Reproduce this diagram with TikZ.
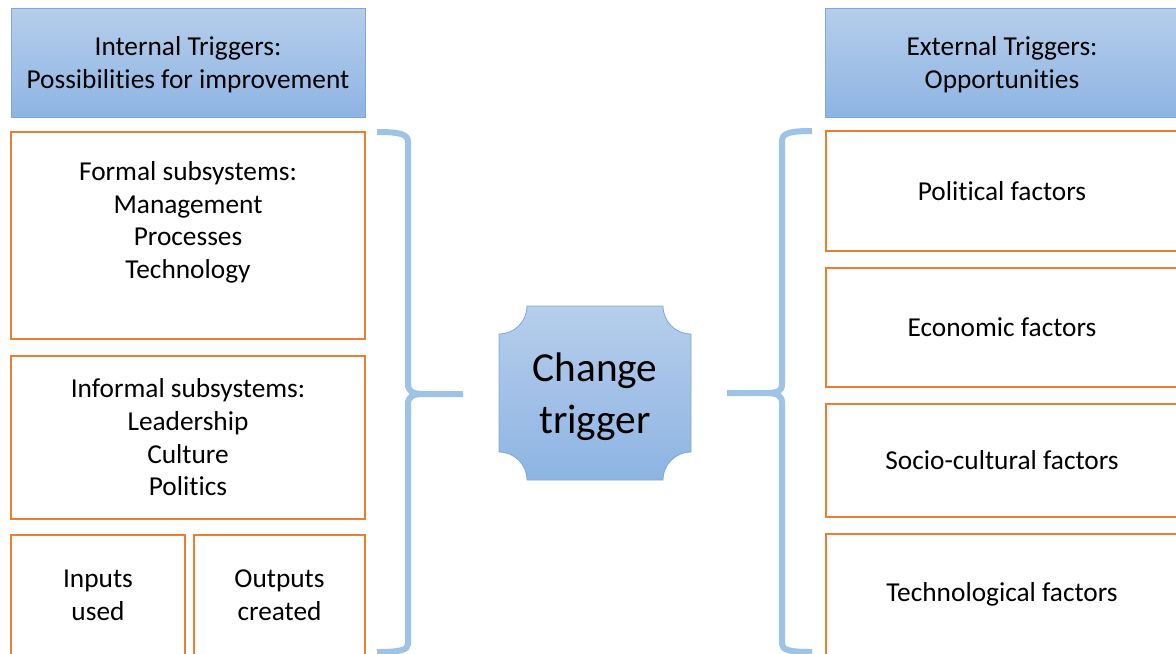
\documentclass[tikz,border=0pt]{standalone}
\usepackage{fontspec}
\setmainfont[Ligatures=NoCommon]{Carlito}
\usetikzlibrary{backgrounds}
\definecolor{hdtop}{RGB}{182,206,235}
\definecolor{hdbot}{RGB}{142,180,227}
\definecolor{hdline}{RGB}{125,168,221}
\definecolor{boxline}{RGB}{237,125,49}
\definecolor{bracecol}{RGB}{157,195,230}
\newcommand{\txtsize}{\fontsize{20.5}{24.5}\selectfont}
\newcommand{\headtxt}[1]{\raisebox{-2.3pt}[\height][\depth]{\begin{tabular}{@{}c@{}}#1\end{tabular}}}
\begin{document}
\begin{tikzpicture}[x=0.75pt, y=-0.75pt,
    header/.style={draw=hdline, line width=0.6pt, top color=hdtop, bottom color=hdbot,
        minimum width=265.5pt, minimum height=81.75pt, inner sep=0pt, font=\txtsize},
    factor/.style={draw=boxline, line width=0.9pt, fill=white, inner sep=0pt, align=center, font=\txtsize},
    brace/.style={draw=bracecol, line width=4.5pt}]
\clip (0,0) rectangle (1176,653);

% headers
\node[header] (inthead) at (188,62.5) {\headtxt{Internal Triggers:\\Possibilities for improvement}};
\node[header] (exthead) at (1002,62.5) {\headtxt{External Triggers:\\Opportunities}};

% internal side
\node[factor, minimum width=265.5pt, minimum height=155.25pt] (formal) at (188,235.5) {};
\node[font=\txtsize, align=center] (formaltxt) at (188,222.5) {Formal subsystems:\\Management\\Processes\\Technology};
\node[factor, minimum width=265.5pt, minimum height=122.25pt] (informal) at (188,437.5) {Informal subsystems:\\Leadership\\Culture\\Politics};
\node[factor, minimum width=130.5pt, minimum height=90pt] (inputs) at (98,595) {Inputs\\used};
\node[factor, minimum width=128.25pt, minimum height=90pt] (outputs) at (279.5,595) {Outputs\\created};

% external side
\node[factor, minimum width=264pt, minimum height=90pt] (political) at (1002,191) {Political factors};
\node[factor, minimum width=264pt, minimum height=89.25pt] (economic) at (1002,327.5) {Economic factors};
\node[factor, minimum width=264pt, minimum height=84.75pt] (social) at (1002,460.5) {Socio-cultural factors};
\node[factor, minimum width=264pt, minimum height=90.75pt] (techno) at (1002,594.5) {Technological factors};

% centre
\node[font=\fontsize{31}{39}\selectfont, align=center] (trig) at (595,397) {Change\\trigger};
\begin{scope}[on background layer]
\shade[top color=hdtop, bottom color=hdbot, draw=hdline, line width=0.6pt]
    (527,306) -- (663,306) .. controls (663,321.5) and (675.5,334) .. (691,334)
    -- (691,452) .. controls (675.5,452) and (663,464.5) .. (663,480)
    -- (527,480) .. controls (527,464.5) and (514.5,452) .. (499,452)
    -- (499,334) .. controls (514.5,334) and (527,321.5) .. (527,306) -- cycle;
\end{scope}

% braces
\draw[brace] (377,132) .. controls (400,132) and (408,134) .. (408,142) -- (408,384)
    .. controls (408,391) and (412,394) .. (424,394) -- (463,394);
\draw[brace] (424,394) .. controls (412,394) and (408,397) .. (408,404) -- (408,644)
    .. controls (408,650) and (400,652) .. (377,652);
\draw[brace] (812,131) .. controls (790,131) and (782,133) .. (782,141) -- (782,384)
    .. controls (782,391) and (778,393) .. (766,393) -- (727,393);
\draw[brace] (766,393) .. controls (778,393) and (782,396) .. (782,403) -- (782,644)
    .. controls (782,650) and (790,652) .. (812,652);
\end{tikzpicture}
\end{document}
